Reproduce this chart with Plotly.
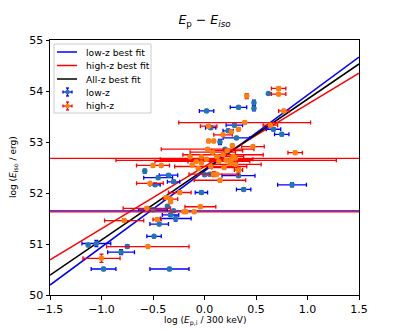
import plotly.graph_objects as go

# best-fit parameters (intercept, slope)
fit_names = ["low-z best fit", "high-z best fit", "All-z best fit"]
fit_intercept = [52.43, 52.52, 52.46]
fit_slope = [1.49, 1.22, 1.38]
fit_colors = ["blue", "red", "black"]
x_fit = [-1.5, 1.5]

# low-z sample
lowz_x = [0.62, 0.48, 0.48, 0.02, 0.33, 0.29, 0.06, 0.67, 0.75, 0.23, 0.31, 0.15, 0.20,
          0.38, 0.85, -0.03, 0.33, 0.05, -0.58, -0.45, -0.35, -0.30, -0.48, -0.50, -0.30,
          -0.33, -0.28, -0.44, -0.49, -0.75, -1.05, -1.13, -0.81, -0.98, -0.34, 0.0, -0.36]
lowz_y = [53.95, 53.77, 53.66, 53.61, 53.68, 53.33, 53.28, 53.25, 53.15, 53.22, 53.08, 53.00, 52.86,
          52.07, 52.16, 52.01, 52.34, 52.37, 52.43, 52.30, 52.35, 52.22, 52.16, 51.67, 51.65,
          51.57, 51.50, 51.39, 51.15, 50.95, 51.01, 50.98, 50.84, 50.51, 50.51, 52.36, 51.74]
lowz_xerr = [0.0, 0.0, 0.0, 0.07, 0.08, 0.08, 0.05, 0.07, 0.07, 0.05, 0.13, 0.0, 0.0,
             0.07, 0.14, 0.06, 0.16, 0.0, 0.0, 0.14, 0.09, 0.06, 0.05, 0.14, 3.0,
             0.08, 0.15, 0.09, 0.07, 0.0, 0.14, 0.0, 0.13, 0.12, 0.19, 0.0, 0.0]
lowz_yerr = [0.02, 0.05, 0.05, 0.03, 0.03, 0.03, 0.03, 0.03, 0.03, 0.03, 0.03, 0.05, 0.03,
             0.03, 0.04, 0.03, 0.03, 0.03, 0.04, 0.03, 0.03, 0.03, 0.03, 0.03, 0.02,
             0.03, 0.05, 0.03, 0.03, 0.03, 0.06, 0.03, 0.05, 0.03, 0.03, 0.03, 0.03]

# high-z sample
highz_x = [0.72, 0.72, 0.41, 0.77, 0.39, 0.64, 0.04, 0.33, 0.26, 0.18, 0.04, 0.09, 0.47, 0.27,
           0.88, 0.03, 0.18, -0.14, -0.03, 0.12, 0.30, 0.21, 0.26, -0.03, 0.25, -0.50, -0.42,
           -0.06, 0.33, 0.09, 0.12, 0.15, -0.53, -0.24, -0.37, -0.33, -0.33, -0.04, -0.10, -0.18,
           -0.56, -0.20, -0.78, -0.46, -0.55, -1.00,
           0.08, 0.22, 0.14, 0.02, -0.08, 0.19, 0.30, -0.12, 0.06, 0.28]
highz_y = [54.05, 53.94, 53.90, 53.61, 53.38, 53.33, 53.31, 53.25, 53.20, 53.14, 53.02, 53.02, 52.91, 52.93,
           52.79, 52.86, 52.75, 52.71, 52.71, 52.71, 52.68, 52.64, 52.65, 52.59, 52.58, 52.54, 52.54,
           52.48, 52.45, 52.37, 52.37, 52.25, 52.19, 52.01, 51.91, 51.88, 51.83, 51.73, 51.63, 51.63,
           51.70, 51.63, 51.46, 51.48, 50.95, 50.72,
           52.80, 52.83, 52.62, 52.66, 52.62, 52.50, 52.56, 52.55, 52.52, 52.72]
highz_xerr = [0.07, 0.07, 0.0, 0.05, 0.64, 0.07, 0.08, 0.0, 0.0, 0.09, 0.0, 0.0, 0.11, 0.0,
              0.07, 0.45, 0.39, 0.0, 0.0, 0.0, 1.85, 1.07, 0.0, 0.0, 0.0, 0.16, 0.0,
              0.0, 0.04, 0.24, 0.0, 0.25, 0.13, 0.11, 0.0, 0.07, 0.0, 0.15, 0.0, 0.0,
              0.23, 2.5, 0.19, 0.04, 0.40, 0.18,
              0.22, 0.15, 0.30, 0.45, 0.40, 0.12, 0.25, 0.0, 0.35, 0.10]
highz_yerr = [0.03, 0.03, 0.05, 0.03, 0.03, 0.03, 0.03, 0.03, 0.03, 0.03, 0.03, 0.03, 0.03, 0.03,
              0.03, 0.03, 0.03, 0.03, 0.03, 0.03, 0.02, 0.02, 0.03, 0.03, 0.03, 0.03, 0.03,
              0.03, 0.04, 0.05, 0.03, 0.03, 0.03, 0.03, 0.03, 0.03, 0.03, 0.03, 0.03, 0.03,
              0.03, 0.02, 0.03, 0.03, 0.03, 0.08,
              0.03, 0.03, 0.03, 0.03, 0.03, 0.03, 0.03, 0.03, 0.03, 0.03]

# page body has an 8px margin; figure sized so it still fills the window
FIG_W, FIG_H = 391, 324
# plot area in window pixels: x 50..359, y 40..295
W, H = 309.0, 255.0


def px(x):
    return (x - 50) / W


def py(y):
    return (295 - y) / H


fig = go.Figure()

for name, a, b, c in zip(fit_names, fit_intercept, fit_slope, fit_colors):
    fig.add_trace(go.Scatter(
        x=x_fit, y=[a + b * xv for xv in x_fit], mode="lines", name=name,
        line=dict(color=c, width=1.5)))

fig.add_trace(go.Scatter(
    x=lowz_x, y=lowz_y, mode="markers", name="low-z",
    marker=dict(color="#1f77b4", size=5.5),
    error_x=dict(type="data", array=lowz_xerr, color="blue", thickness=1.3, width=2),
    error_y=dict(type="data", array=lowz_yerr, color="blue", thickness=1.3, width=2)))

fig.add_trace(go.Scatter(
    x=highz_x, y=highz_y, mode="markers", name="high-z",
    marker=dict(color="#ff7f0e", size=5.5),
    error_x=dict(type="data", array=highz_xerr, color="red", thickness=1.3, width=2),
    error_y=dict(type="data", array=highz_yerr, color="red", thickness=1.3, width=2)))

# hand-built legend box (matplotlib style)
shapes = [dict(type="rect", xref="paper", yref="paper", x0=px(54), x1=px(151), y0=py(113), y1=py(44),
               line=dict(color="#cccccc", width=1), fillcolor="rgba(255,255,255,0.85)", layer="above")]
annotations = []
leg_rows = [52, 65.5, 79, 92, 106]
leg_labels = fit_names + ["low-z", "high-z"]
for i, (row, lab) in enumerate(zip(leg_rows, leg_labels)):
    if i < 3:
        shapes.append(dict(type="line", xref="paper", yref="paper", x0=px(57), x1=px(77),
                           y0=py(row), y1=py(row), line=dict(color=fit_colors[i], width=1.5), layer="above"))
    else:
        ec = "blue" if i == 3 else "red"
        mc = "#1f77b4" if i == 3 else "#ff7f0e"
        shapes.append(dict(type="line", xref="paper", yref="paper", x0=px(63), x1=px(72),
                           y0=py(row), y1=py(row), line=dict(color=ec, width=1.3), layer="above"))
        shapes.append(dict(type="line", xref="paper", yref="paper", x0=px(67.5), x1=px(67.5),
                           y0=py(row - 4), y1=py(row + 4), line=dict(color=ec, width=1.3), layer="above"))
        for cy in (row - 4, row + 4):
            shapes.append(dict(type="line", xref="paper", yref="paper", x0=px(66), x1=px(69),
                               y0=py(cy), y1=py(cy), line=dict(color=ec, width=1.3), layer="above"))
        for cx in (63, 72):
            shapes.append(dict(type="line", xref="paper", yref="paper", x0=px(cx), x1=px(cx),
                               y0=py(row - 1.5), y1=py(row + 1.5), line=dict(color=ec, width=1.3), layer="above"))
        shapes.append(dict(type="circle", xref="paper", yref="paper", x0=px(65.3), x1=px(69.7),
                           y0=py(row + 2.2), y1=py(row - 2.2), fillcolor=mc, line=dict(width=0), layer="above"))
    annotations.append(dict(text=lab, xref="paper", yref="paper", x=px(84), y=py(row),
                            xanchor="left", yanchor="middle", showarrow=False,
                            font=dict(size=9.2, color="black")))

# axis titles
annotations.append(dict(text="log (<i>E</i><sub>p,i</sub> / 300 keV)", xref="paper", yref="paper",
                        x=px(204.5), y=py(321), xanchor="center", yanchor="middle", showarrow=False,
                        font=dict(size=9, color="black")))
annotations.append(dict(text="log (<i>E</i><sub>iso</sub> / erg)", xref="paper", yref="paper",
                        x=px(13), y=py(167), xanchor="center", yanchor="middle", showarrow=False,
                        textangle=-90, font=dict(size=9, color="black")))

axis_style = dict(showgrid=False, zeroline=False, showline=True, linecolor="black",
                  linewidth=1, mirror=True, ticks="outside", ticklen=3.5, automargin=False,
                  tickcolor="black", tickfont=dict(size=11, color="black"))

fig.update_layout(
    width=FIG_W, height=FIG_H,
    margin=dict(l=42, r=FIG_W - 351, t=32, b=FIG_H - 287, autoexpand=False),
    paper_bgcolor="white", plot_bgcolor="white",
    font=dict(family="DejaVu Sans", color="black"),
    title=dict(text="<i>E</i><sub>p</sub> − <i>E<sub>iso</sub></i>",
               x=(204.5 - 8) / FIG_W, xanchor="center", y=1 - 12 / FIG_H, yanchor="middle",
               font=dict(size=12.5), automargin=False),
    xaxis=dict(range=[-1.5, 1.5], tickvals=[-1.5, -1.0, -0.5, 0.0, 0.5, 1.0, 1.5],
               ticktext=["−1.5", "−1.0", "−0.5", "0.0", "0.5", "1.0", "1.5"],
               **axis_style),
    yaxis=dict(range=[50, 55], tickvals=[50, 51, 52, 53, 54, 55], **axis_style),
    shapes=shapes, annotations=annotations,
    showlegend=False,
)

fig.write_html("out.html")
